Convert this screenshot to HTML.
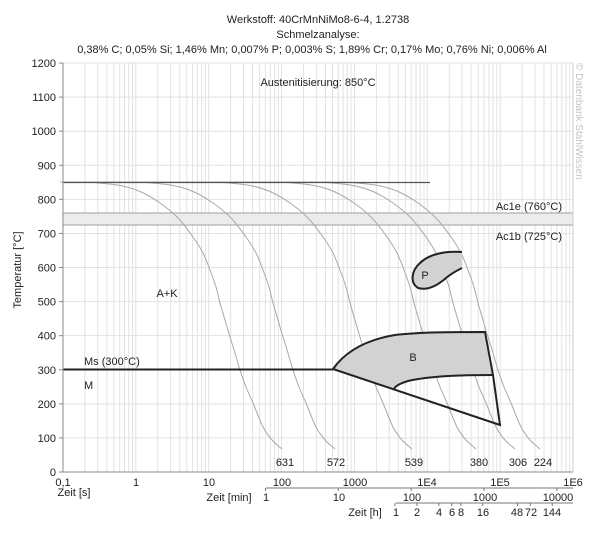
<!DOCTYPE html>
<html><head><meta charset="utf-8"><style>
html,body{margin:0;padding:0;background:#fff;}
svg{display:block;font-family:"Liberation Sans",Arial,sans-serif;}
</style></head><body>
<svg width="605" height="536" viewBox="0 0 605 536" xmlns="http://www.w3.org/2000/svg">
<g id="grid" stroke="#e2e2e2" stroke-width="1"></g>
<rect x="63" y="213" width="510" height="12" fill="#ececec"/>
<line x1="63" y1="213" x2="573" y2="213" stroke="#a0a0a0"/>
<line x1="63" y1="225" x2="573" y2="225" stroke="#a0a0a0"/>
<g id="curves" fill="none" stroke="#a8a8a8" stroke-width="1"></g>
<line x1="63" y1="182.5" x2="430" y2="182.5" stroke="#555" stroke-width="1.3"/>
<!-- P region -->
<path d="M462,252 C448,251 430,253 420,263 C411,271 410,283 418,288 C428,291 438,285 446,278 C452,273 458,270 462,268 Z" fill="#d2d2d2" stroke="none"/>
<path d="M462,252 C448,251 430,253 420,263 C411,271 410,283 418,288 C428,291 438,285 446,278 C452,273 458,270 462,268" fill="none" stroke="#222" stroke-width="2"/>
<!-- B region -->
<path d="M333,369 C345,352 365,340 395,335 C420,332 455,332 485,332 L493,375 C460,375 430,376 408,381 C398,384 394,387 394,390 Z" fill="#d2d2d2"/>
<path d="M333,369 C345,352 365,340 395,335 C420,332 455,332 485,332 L493,375 L500,425 L333,369" fill="none" stroke="#222" stroke-width="2"/>
<path d="M493,375 C460,375 430,376 408,381 C398,384 394,387 394,390" fill="none" stroke="#222" stroke-width="2"/>
<line x1="63" y1="369.5" x2="333" y2="369.5" stroke="#222" stroke-width="2"/>
<!-- axes -->
<line x1="63" y1="63" x2="63" y2="472" stroke="#888"/>
<line x1="63" y1="472" x2="573" y2="472" stroke="#888"/>
<line x1="573" y1="63" x2="573" y2="472" stroke="#ccc"/>
<g id="yt" font-size="11" fill="#222" text-anchor="end"></g>
<g font-size="11" fill="#222" text-anchor="middle">
<text x="63" y="486">0,1</text><text x="136" y="486">1</text><text x="209" y="486">10</text><text x="282" y="486">100</text><text x="355" y="486">1000</text><text x="427" y="486">1E4</text><text x="500" y="486">1E5</text><text x="573" y="486">1E6</text>
<text x="74" y="496">Zeit [s]</text>
<text x="229" y="501">Zeit [min]</text>
<text x="266" y="501">1</text><text x="339" y="501">10</text><text x="412" y="501">100</text><text x="485" y="501">1000</text><text x="558" y="501">10000</text>
<text x="365" y="516">Zeit [h]</text>
<text x="396" y="516">1</text><text x="417" y="516">2</text><text x="439" y="516">4</text><text x="452" y="516">6</text><text x="461" y="516">8</text><text x="483" y="516">16</text><text x="517" y="516">48</text><text x="531" y="516">72</text><text x="552" y="516">144</text>
<text x="318" y="23">Werkstoff: 40CrMnNiMo8-6-4, 1.2738</text>
<text x="318" y="38">Schmelzanalyse:</text>
<text x="312" y="53">0,38% C; 0,05% Si; 1,46% Mn; 0,007% P; 0,003% S; 1,89% Cr; 0,17% Mo; 0,76% Ni; 0,006% Al</text>
<text x="318" y="86">Austenitisierung: 850°C</text>
<text x="285" y="466">631</text><text x="336" y="466">572</text><text x="414" y="466">539</text><text x="479" y="466">380</text><text x="518" y="466">306</text><text x="543" y="466">224</text>
<text x="167" y="297">A+K</text>
<text x="425" y="279">P</text>
<text x="413" y="361">B</text>
</g>
<g font-size="11" fill="#222">
<text x="84" y="365">Ms (300°C)</text>
<text x="84" y="389">M</text>
<text x="562" y="210" text-anchor="end">Ac1e (760°C)</text>
<text x="562" y="240" text-anchor="end">Ac1b (725°C)</text>
<text transform="translate(21,270) rotate(-90)" text-anchor="middle">Temperatur [°C]</text>
</g>
<text transform="translate(576,63) rotate(90)" font-size="10" fill="#c4c4c4">© Datenbank StahlWissen</text>
<g stroke="#777" stroke-width="1">
<line x1="266" y1="488" x2="573" y2="488"/>
<line x1="396" y1="503" x2="573" y2="503"/>
</g>
<g id="sub" stroke="#777" stroke-width="1"></g>
</svg>
<script>
var NS="http://www.w3.org/2000/svg";
function el(p,t,a){var e=document.createElementNS(NS,t);for(var k in a)e.setAttribute(k,a[k]);p.appendChild(e);return e;}
var x0=63,dec=72.86;
function X(s){return x0+(Math.log10(s)+1)*dec;}
var g=document.getElementById('grid');
for(var d=-1;d<6;d++){for(var m=1;m<10;m++){var x=X(m*Math.pow(10,d));if(x>573.5)continue;el(g,'line',{x1:x,y1:63,x2:x,y2:472});}}
for(var v=0;v<=1200;v+=100){var y=472-v*0.3408;el(g,'line',{x1:63,y1:y,x2:573,y2:y});
el(document.getElementById('yt'),'text',{x:56,y:y+4}).textContent=v;
el(document.getElementById('yt'),'line',{x1:59,y1:y,x2:63,y2:y,stroke:'#888'});}
var base=[[90,182.4],[120,185.5],[140,191.5],[160,203],[178,218],[193,237],[203,253],[210,270],[216,287],[220,303],[225,320],[230,337],[235,353],[240,370],[246,387],[253,403],[263,427],[272,440],[282,449]];
var shifts=[0,53,130,194,233,258];
var cg=document.getElementById('curves');
function smooth(pts){
 var d='M'+pts[0][0]+','+pts[0][1];
 for(var i=0;i<pts.length-1;i++){var p0=pts[Math.max(i-1,0)],p1=pts[i],p2=pts[i+1],p3=pts[Math.min(i+2,pts.length-1)];
  d+=' C'+(p1[0]+(p2[0]-p0[0])/6)+','+(p1[1]+(p2[1]-p0[1])/6)+' '+(p2[0]-(p3[0]-p1[0])/6)+','+(p2[1]-(p3[1]-p1[1])/6)+' '+p2[0]+','+p2[1];}
 return d;}
shifts.forEach(function(s){
 var pts=base.map(function(p){return [p[0]+s,p[1]];});
 var d='M63,182 L'+(60+s)+',182 '+smooth([[60+s,182]].concat(pts)).replace(/^M[^ ]+/,'');
 el(cg,'path',{d:d});
});
var sg=document.getElementById('sub');
[1,10,100,1000,10000].forEach(function(m){var x=X(m*60);el(sg,'line',{x1:x,y1:488,x2:x,y2:491});});
[1,2,4,6,8,16,48,72,144].forEach(function(h){var x=X(h*3600);el(sg,'line',{x1:x,y1:503,x2:x,y2:506});});
</script>
</body></html>
